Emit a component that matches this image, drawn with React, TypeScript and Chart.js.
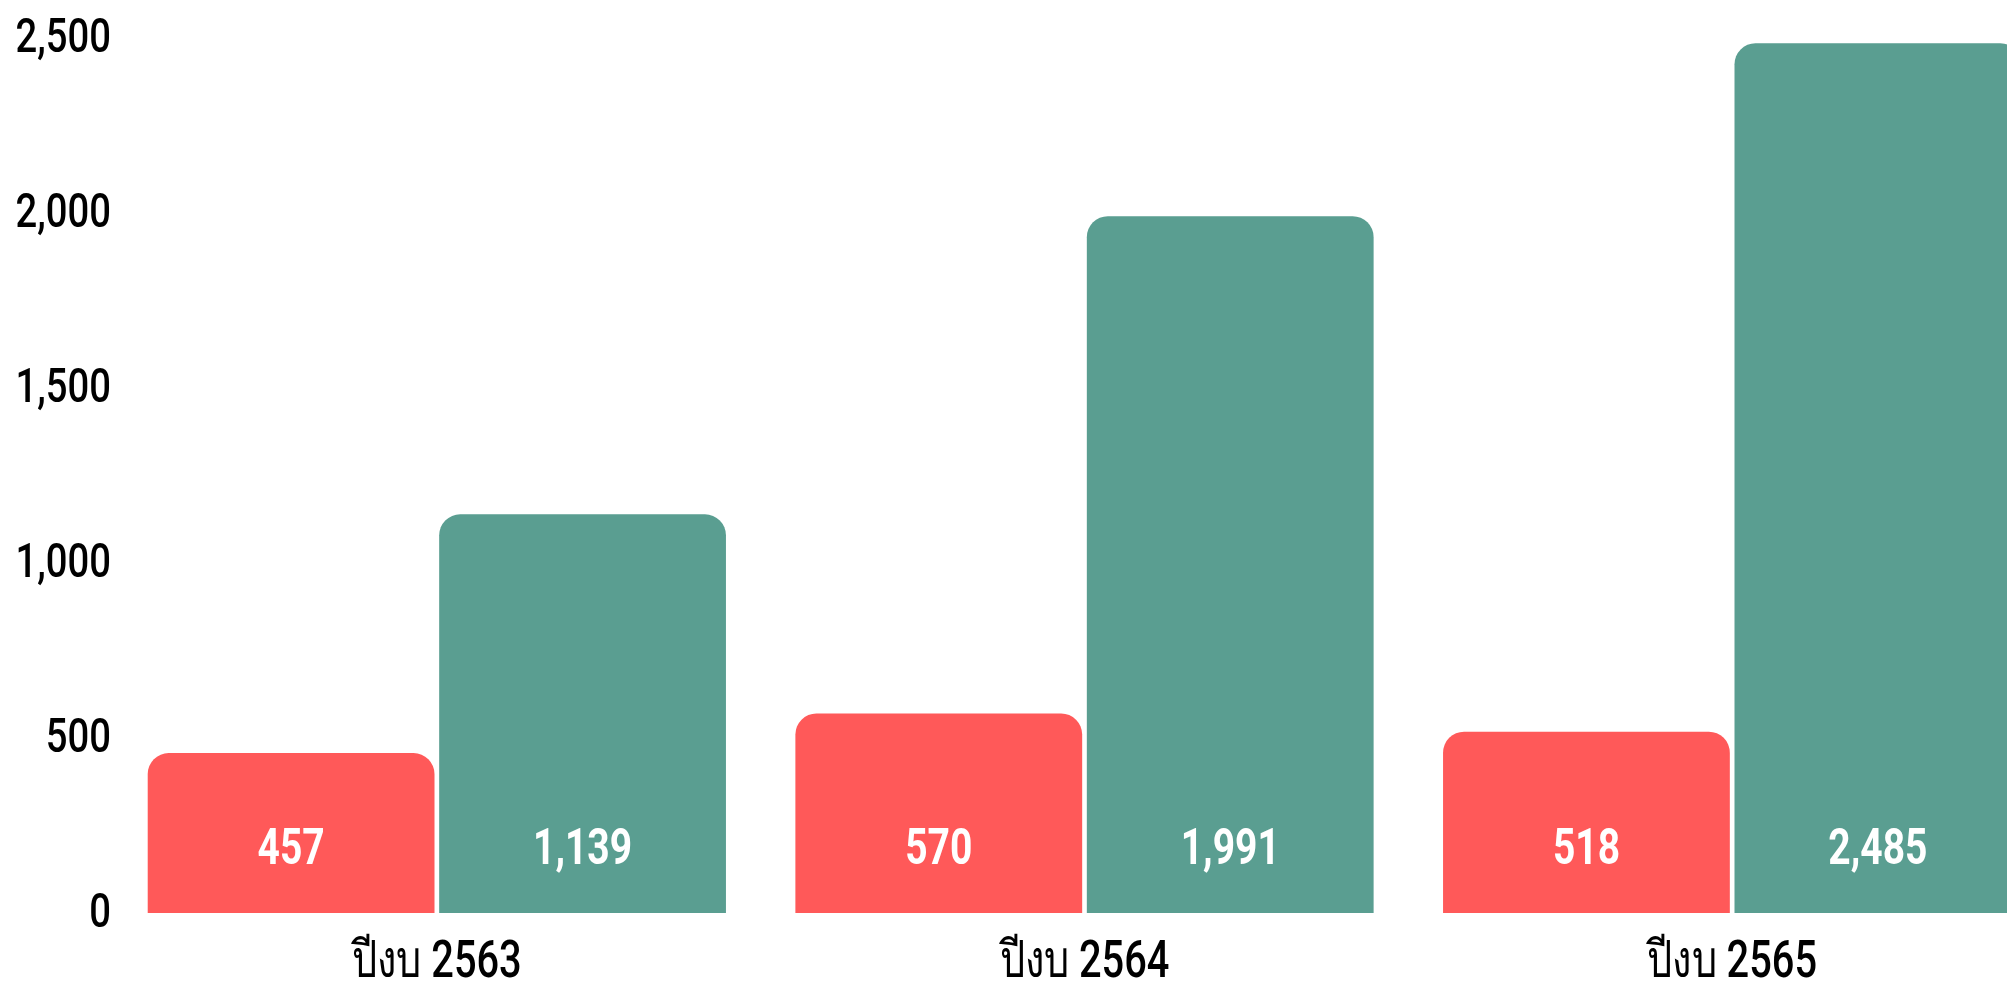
import React, { useEffect, useRef } from "react";
import { Chart, registerables } from "chart.js";

Chart.register(...registerables);

const categories = ["ปีงบ 2563", "ปีงบ 2564", "ปีงบ 2565"];
const seriesRed = [457, 570, 518];
const seriesGreen = [1139, 1991, 2485];
const yTicks = [0, 500, 1000, 1500, 2000, 2500];

const RED = "#ff5959";
const GREEN = "#5a9e91";
const FONT = "Roboto, 'Noto Sans', sans-serif";
const SX = 0.78;

const fmt = (v: number) => v.toLocaleString("en-US");

function drawCondensed(ctx: any, text: string, x: number, y: number, align: string) {
  ctx.save();
  ctx.translate(x, y);
  ctx.scale(SX, 1);
  ctx.textAlign = align;
  ctx.fillText(text, 0, 0);
  ctx.restore();
}

const condensedText = {
  id: "condensedText",
  afterDatasetsDraw(chart: any) {
    const ctx = chart.ctx;
    ctx.save();
    ctx.textBaseline = "alphabetic";
    // value labels inside bars
    ctx.fillStyle = "#ffffff";
    ctx.font = `700 50px ${FONT}`;
    chart.data.datasets.forEach((ds: any, i: number) => {
      const meta = chart.getDatasetMeta(i);
      meta.data.forEach((el: any, j: number) => {
        drawCondensed(ctx, fmt(ds.data[j] as number), el.x, el.base - 49, "center");
      });
    });
    // y axis tick labels
    const ys = chart.scales.y;
    ctx.fillStyle = "#000000";
    ctx.font = `500 49px ${FONT}`;
    ys.ticks.forEach((t: any) => {
      const y = ys.getPixelForValue(t.value);
      drawCondensed(ctx, fmt(t.value), chart.chartArea.left - 2, y + 13.5, "right");
    });
    // x axis category labels
    const xs = chart.scales.x;
    ctx.font = `500 51px ${FONT}`;
    categories.forEach((c, i) => {
      const x = xs.getPixelForTick(i);
      drawCondensed(ctx, c, x, chart.chartArea.bottom + 64, "center");
    });
    ctx.restore();
  },
};

export default function App() {
  const ref = useRef<HTMLCanvasElement | null>(null);
  useEffect(() => {
    if (!ref.current) return;
    const radius = { topLeft: 21, topRight: 21, bottomLeft: 0, bottomRight: 0 };
    const chart = new Chart(ref.current, {
      type: "bar",
      data: {
        labels: categories,
        datasets: [
          {
            data: seriesRed,
            backgroundColor: RED,
            borderRadius: radius,
            borderSkipped: false,
            barPercentage: 0.984,
            categoryPercentage: 0.9,
          },
          {
            data: seriesGreen,
            backgroundColor: GREEN,
            borderRadius: radius,
            borderSkipped: false,
            barPercentage: 0.984,
            categoryPercentage: 0.9,
          },
        ],
      },
      options: {
        responsive: false,
        animation: false,
        layout: { padding: { top: 38, left: 0, right: 0, bottom: 0 } },
        plugins: { legend: { display: false }, tooltip: { enabled: false } },
        scales: {
          x: {
            grid: { display: false, drawTicks: false },
            border: { display: false },
            ticks: { display: false },
            afterFit(scale: any) {
              scale.height = 72;
            },
          },
          y: {
            min: 0,
            max: 2500,
            grid: { display: false, drawTicks: false },
            border: { display: false },
            afterBuildTicks(scale: any) {
              scale.ticks = yTicks.map((v) => ({ value: v }));
            },
            ticks: { display: false },
            afterFit(scale: any) {
              scale.width = 113;
            },
          },
        },
      },
      plugins: [condensedText],
    });
    return () => chart.destroy();
  }, []);
  return (
    <div style={{ position: "fixed", left: 0, top: 0, width: "100vw", height: "100vh", overflow: "hidden", background: "#fff" }}>
      <canvas ref={ref} width={2056} height={985} style={{ display: "block" }} />
    </div>
  );
}
